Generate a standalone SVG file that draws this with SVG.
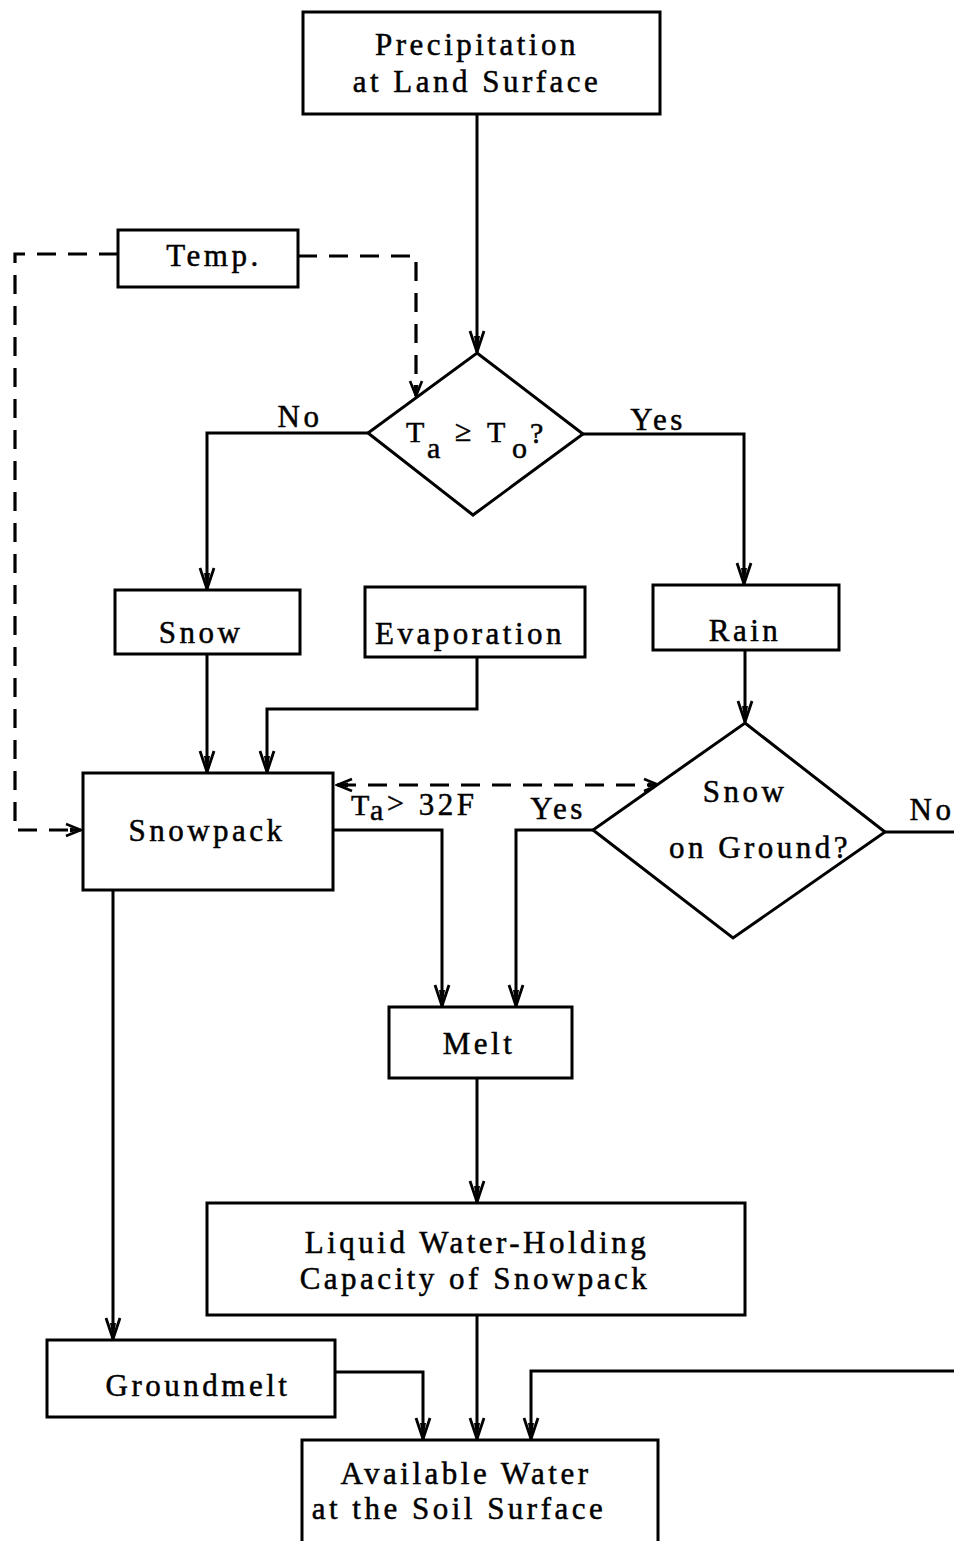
<svg xmlns="http://www.w3.org/2000/svg" width="954" height="1541" viewBox="0 0 954 1541">
  <style>
    .box { fill: #fff; stroke: #000; stroke-width: 3; }
    .line { fill: none; stroke: #000; stroke-width: 3; }
    .dash { fill: none; stroke: #000; stroke-width: 3.2; stroke-dasharray: 19 12; }
    .lbl { font-family: "Liberation Serif", "DejaVu Serif", serif; font-size: 31px; letter-spacing: 3.5px; fill: #000; stroke: #000; stroke-width: 0.5; text-anchor: middle; }
    .sub { font-family: "Liberation Serif", "DejaVu Serif", serif; font-size: 30px; fill: #000; stroke: #000; stroke-width: 0.5; }
  </style>
  <defs>
    <marker id="arr" markerUnits="userSpaceOnUse" viewBox="-24 -10 26 20" markerWidth="26" markerHeight="20" refX="0" refY="0" orient="auto">
      <path d="M-21,-7 L0,0 L-21,7" fill="none" stroke="#000" stroke-width="2.8" stroke-dasharray="none"/>
      <path d="M-16,-3 L0,0 L-16,3 Z" fill="#000" stroke="none"/>
    </marker>
    <marker id="arrs" markerUnits="userSpaceOnUse" viewBox="-18 -8 20 16" markerWidth="20" markerHeight="16" refX="0" refY="0" orient="auto">
      <path d="M-15,-6 L0,0 L-15,6" fill="none" stroke="#000" stroke-width="2.6" stroke-dasharray="none"/>
      <path d="M-11,-2.5 L0,0 L-11,2.5 Z" fill="#000" stroke="none"/>
    </marker>
    <marker id="arrsStart" markerUnits="userSpaceOnUse" viewBox="-2 -8 20 16" markerWidth="20" markerHeight="16" refX="0" refY="0" orient="auto">
      <path d="M15,-6 L0,0 L15,6" fill="none" stroke="#000" stroke-width="2.6" stroke-dasharray="none"/>
      <path d="M11,-2.5 L0,0 L11,2.5 Z" fill="#000" stroke="none"/>
    </marker>
  </defs>

  <rect width="954" height="1541" fill="#fff"/>

  <!-- connectors -->
  <g id="connectors">
    <!-- solid flow -->
    <path class="line" d="M477,115 V352" marker-end="url(#arr)"/>
    <path class="line" d="M368,433 H207 V589" marker-end="url(#arr)"/>
    <path class="line" d="M583,434 H744 V584" marker-end="url(#arr)"/>
    <path class="line" d="M207,654 V772" marker-end="url(#arr)"/>
    <path class="line" d="M477,657 V709 H267 V772" marker-end="url(#arr)"/>
    <path class="line" d="M745,650 V722" marker-end="url(#arr)"/>
    <path class="line" d="M334,830 H442 V1006" marker-end="url(#arr)"/>
    <path class="line" d="M593,830 H516 V1006" marker-end="url(#arr)"/>
    <path class="line" d="M885,832 H954"/>
    <path class="line" d="M477,1078 V1202" marker-end="url(#arr)"/>
    <path class="line" d="M477,1315 V1439" marker-end="url(#arr)"/>
    <path class="line" d="M113,890 V1339" marker-end="url(#arr)"/>
    <path class="line" d="M335,1372 H423 V1439" marker-end="url(#arr)"/>
    <path class="line" d="M954,1371 H531 V1439" marker-end="url(#arr)"/>
    <!-- temperature control (dashed) -->
    <path class="dash" d="M118,254 H15 V830 H81" marker-end="url(#arrs)"/>
    <path class="dash" d="M298,256 H416 V396" marker-end="url(#arrs)"/>
    <path class="dash" d="M337,785 H659" marker-start="url(#arrsStart)" marker-end="url(#arrs)"/>
  </g>

  <!-- connector labels -->
  <g id="labels">
    <text class="lbl" x="300" y="427">No</text>
    <text class="lbl" x="658" y="430">Yes</text>
    <text class="lbl" x="558" y="819">Yes</text>
    <text class="lbl" x="932" y="820">No</text>
    <text class="sub" x="351" y="815">T</text>
    <text class="sub" x="370" y="820" font-size="28">a</text>
    <text class="sub" x="387" y="813" font-size="28">&gt;</text>
    <text class="lbl" x="448" y="815">32F</text>
  </g>

  <g id="precipitation">
    <rect class="box" x="303" y="12" width="357" height="102"/>
    <text class="lbl" x="477" y="55">Precipitation</text>
    <text class="lbl" x="477" y="92">at Land Surface</text>
  </g>

  <g id="temp">
    <rect class="box" x="118" y="230" width="180" height="57"/>
    <text class="lbl" x="214" y="266">Temp.</text>
  </g>

  <g id="decision-temp">
    <polygon class="box" points="477,353 583,434 473,515 368,433"/>
    <text class="sub" x="406" y="442">T</text>
    <text class="sub" x="427" y="458">a</text>
    <text class="sub" x="455" y="441" font-size="26">≥</text>
    <text class="sub" x="487" y="442">T</text>
    <text class="sub" x="512" y="458">o</text>
    <text class="sub" x="530" y="443">?</text>
  </g>

  <g id="snow">
    <rect class="box" x="115" y="590" width="185" height="64"/>
    <text class="lbl" x="201" y="643">Snow</text>
  </g>

  <g id="evaporation">
    <rect class="box" x="365" y="587" width="220" height="70"/>
    <text class="lbl" x="470" y="644">Evaporation</text>
  </g>

  <g id="rain">
    <rect class="box" x="653" y="585" width="186" height="65"/>
    <text class="lbl" x="745" y="641">Rain</text>
  </g>

  <g id="snowpack">
    <rect class="box" x="83" y="773" width="250" height="117"/>
    <text class="lbl" x="207" y="841">Snowpack</text>
  </g>

  <g id="decision-snow">
    <polygon class="box" points="745,723 885,832 733,938 593,830"/>
    <text class="lbl" x="745" y="802">Snow</text>
    <text class="lbl" x="760" y="858">on Ground?</text>
  </g>

  <g id="melt">
    <rect class="box" x="389" y="1007" width="183" height="71"/>
    <text class="lbl" x="479" y="1054">Melt</text>
  </g>

  <g id="liquid-water">
    <rect class="box" x="207" y="1203" width="538" height="112"/>
    <text class="lbl" x="477" y="1253">Liquid Water-Holding</text>
    <text class="lbl" x="475" y="1289">Capacity of Snowpack</text>
  </g>

  <g id="groundmelt">
    <rect class="box" x="47" y="1340" width="288" height="77"/>
    <text class="lbl" x="198" y="1396">Groundmelt</text>
  </g>

  <g id="available-water">
    <rect class="box" x="302" y="1440" width="356" height="104"/>
    <text class="lbl" x="466" y="1484">Available Water</text>
    <text class="lbl" x="459" y="1519">at the Soil Surface</text>
  </g>
</svg>
